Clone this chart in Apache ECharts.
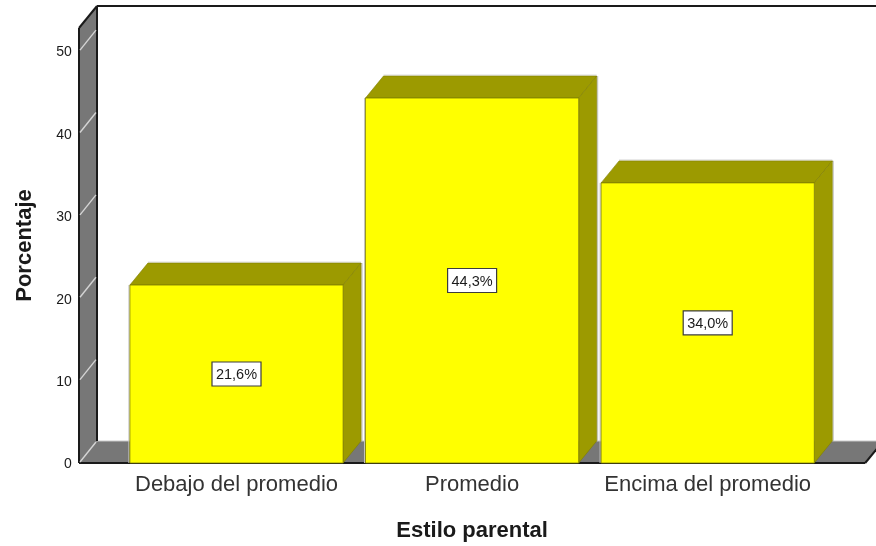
<!DOCTYPE html>
<html><head><meta charset="utf-8">
<style>html,body{margin:0;padding:0;background:#fff}#c{width:876px;height:546px}</style>
<script src="https://cdn.jsdelivr.net/npm/echarts@6/dist/echarts.min.js"></script>
</head><body><div id="c"></div>
<script>
const categories = ['Debajo del promedio', 'Promedio', 'Encima del promedio'];
const percentages = [21.6, 44.3, 34.0];
const valueLabels = ['21,6%', '44,3%', '34,0%'];
const yTicks = [0, 10, 20, 30, 40, 50];
const yMax = 52.8;

const DX = 18, DY = -22, PAD = 39.7, BAR = 0.905;
const FONT = '"Liberation Sans", Arial, sans-serif';
const chart = echarts.init(document.getElementById('c'), null, {renderer: 'canvas'});

function poly(points, fill, stroke, lw, z2) {
  return {type: 'polygon', shape: {points}, z2: z2 || 0,
    style: {fill: fill, stroke: stroke || null, lineWidth: lw || 0}};
}
function line(a, b, stroke, lw, z2) {
  return {type: 'line', shape: {x1: a[0], y1: a[1], x2: b[0], y2: b[1]}, z2: z2 || 0,
    style: {stroke: stroke, lineWidth: lw}};
}
function frame(params, api) {
  const band = api.size([1, 0])[0];
  const x0 = api.coord([0, 0])[0] - band / 2 - PAD;
  const x1 = api.coord([categories.length - 1, 0])[0] + band / 2 + PAD;
  const y0 = api.coord([0, 0])[1];
  const yT = api.coord([0, yMax])[1];
  return {type: 'group', children: [
    poly([[x1 + DX, y0 + DY], [x0 + DX, y0 + DY], [x0, y0], [x1, y0]], '#777777', null, 0, 1),
    line([x0 + DX, y0 + DY], [x1 + DX, y0 + DY], '#c8c8c8', 1, 2),
    poly([[x0, y0], [x0, yT], [x0 + DX, yT + DY], [x0 + DX, y0 + DY]], '#777777', null, 0, 1),
    line([x0, y0], [x0, yT], '#1a1a1a', 2, 3),
    line([x0, yT], [x0 + DX, yT + DY], '#1a1a1a', 2, 3),
    line([x0 + DX, yT + DY], [x0 + DX, y0 + DY], '#1a1a1a', 2, 3),
    line([x0 + DX, yT + DY], [x1 + DX, yT + DY], '#1a1a1a', 2, 3),
    line([x0, y0], [x1, y0], '#1a1a1a', 2, 3),
    line([x1, y0], [x1 + DX, y0 + DY], '#1a1a1a', 2, 3)
  ]};
}
function tick(params, api) {
  const band = api.size([1, 0])[0];
  const x0 = api.coord([0, 0])[0] - band / 2 - PAD;
  const y = api.coord([0, api.value(0)])[1];
  return line([x0 + 1, y - 1], [x0 + DX - 1, y + DY + 1], '#d4d4d4', 1.4, 4);
}
function bar(params, api) {
  const c = api.coord([api.value(0), api.value(1)]);
  const base = api.coord([api.value(0), 0]);
  const w = api.size([1, 0])[0] * BAR;
  const l = c[0] - w / 2, r = c[0] + w / 2, t = c[1], b = base[1];
  const edge = '#7f7d00';
  return {type: 'group', children: [
    line([l - 1, t], [l - 1, b], '#c4c4c4', 1, 5),
    line([l + DX, t + DY - 1], [r + DX, t + DY - 1], '#dcdcdc', 1, 5),
    line([r + DX + 1, t + DY], [r + DX + 1, b + DY], '#c4c4c4', 1, 5),
    poly([[l, t], [l + DX, t + DY], [r + DX, t + DY], [r, t]], '#9c9a00', edge, 0.6, 6),
    poly([[r, t], [r + DX, t + DY], [r + DX, b + DY], [r, b]], '#9c9a00', edge, 0.6, 6),
    poly([[l, t], [r, t], [r, b], [l, b]], '#ffff00', edge, 0.8, 7),
    {type: 'rect', z2: 8,
      shape: {x: c[0] - 24.5, y: (t + b) / 2 - 12, width: 49, height: 24},
      style: {fill: '#ffffff', stroke: '#3c3c3c', lineWidth: 1.2}},
    {type: 'text', z2: 9, x: c[0], y: (t + b) / 2 + 1,
      style: {text: valueLabels[api.value(0)], fill: '#1a1a1a', align: 'center', verticalAlign: 'middle',
        font: '14.5px ' + FONT}}
  ]};
}

chart.setOption({
  animation: false,
  backgroundColor: '#ffffff',
  grid: {left: 118.7, width: 706.8, top: 28, height: 435, outerBoundsMode: 'none'},
  xAxis: {
    type: 'category', data: categories,
    axisLine: {show: false}, axisTick: {show: false}, splitLine: {show: false},
    axisLabel: {margin: 11, fontFamily: FONT, fontSize: 22, color: '#333333', interval: 0},
    name: 'Estilo parental', nameLocation: 'middle', nameGap: 57,
    nameTextStyle: {fontFamily: FONT, fontSize: 22, fontWeight: 'bold', color: '#1a1a1a'}
  },
  yAxis: {
    type: 'value', min: 0, max: yMax, interval: 10,
    axisLine: {show: false}, axisTick: {show: false}, splitLine: {show: false},
    axisLabel: {margin: 47, fontFamily: FONT, fontSize: 14, color: '#1a1a1a', showMaxLabel: false,
      verticalAlign: 'top', lineHeight: 3},
    name: 'Porcentaje', nameLocation: 'middle', nameGap: 83,
    nameTextStyle: {fontFamily: FONT, fontSize: 22, fontWeight: 'bold', color: '#1a1a1a'}
  },
  series: [
    {type: 'custom', z: 1, clip: false, silent: true, renderItem: frame, data: [[0]]},
    {type: 'custom', z: 2, clip: false, silent: true, renderItem: tick, data: yTicks.map(v => [v]),
      encode: {y: 0}},
    {type: 'custom', z: 3, clip: false, silent: true, renderItem: bar,
      data: percentages.map((v, i) => [i, v]), encode: {x: 0, y: 1}}
  ]
});
</script></body></html>
